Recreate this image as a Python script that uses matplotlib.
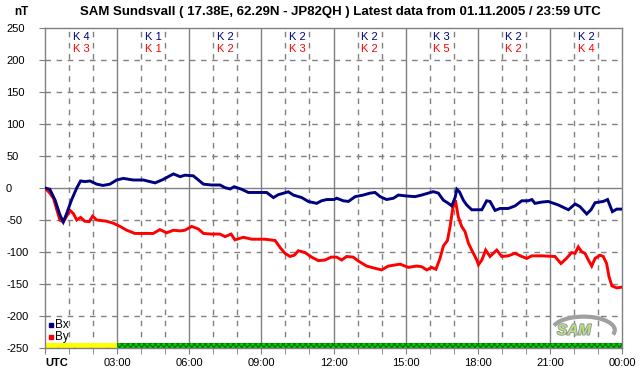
import matplotlib
matplotlib.use("Agg")
import matplotlib.pyplot as plt
from matplotlib.patches import Rectangle, Arc
import matplotlib.patheffects as pe
import numpy as np

plt.rcParams['font.family'] = ['Liberation Sans', 'DejaVu Sans']
plt.rcParams['hatch.linewidth'] = 0.8

# ---- data ----
bx_hours = [0.0, 0.2, 0.42, 0.62, 0.76, 0.9, 1.1, 1.32, 1.48, 1.66, 1.87, 2.15, 2.41, 2.7, 2.98,
            3.26, 3.67, 4.09, 4.58, 4.92, 5.34, 5.62, 5.82, 6.17, 6.38, 6.59, 6.93, 7.28, 7.49,
            7.7, 7.87, 8.18, 8.46, 8.87, 9.22, 9.5, 9.7, 10.12, 10.33, 10.68, 10.95, 11.3, 11.5,
            11.72, 12.03, 12.13, 12.41, 12.62, 12.9, 13.24, 13.52, 13.73, 13.94, 14.21, 14.49,
            14.7, 15.04, 15.39, 15.67, 15.94, 16.15, 16.36, 16.57, 16.78, 16.92, 17.06, 17.13,
            17.24, 17.4, 17.54, 17.75, 17.96, 18.17, 18.37, 18.51, 18.72, 18.93, 19.27, 19.55,
            19.83, 20.1, 20.25, 20.38, 20.66, 20.93, 21.35, 21.77, 22.05, 22.25, 22.53, 22.71,
            22.88, 23.22, 23.4, 23.6, 23.78, 23.99]
bx_values = [0, -2, -19, -42, -53, -40, -19, 0, 11, 10, 11, 6, 4, 6, 12.5,
             15, 12.5, 12.5, 8, 13.5, 22, 17.7, 20, 19, 12.5, 6, 4.7, 4.7, 0.5,
             -1.5, 2, -2, -7, -7, -7, -15, -10.5, -6, -11, -15, -21, -24, -20,
             -18, -18, -16, -20, -21, -13.5, -11, -8, -7, -13.5, -18, -16,
             -11, -12.5, -13.5, -11, -8, -5.7, -8, -19, -24, -28, -14.5, -2,
             -6, -19, -26.5, -34, -34, -34, -20, -21, -35, -32, -32, -28,
             -20, -20, -18, -24, -22, -21, -26.5, -34, -25, -29, -40.6, -34,
             -23, -21, -18, -37, -33, -33]

by_hours = [0.0, 0.2, 0.35, 0.49, 0.62, 0.76, 0.9, 1.04, 1.18, 1.32, 1.48, 1.66, 1.84, 1.98,
            2.15, 2.57, 2.84, 3.12, 3.4, 3.74, 4.5, 4.78, 5.06, 5.34, 5.62, 5.82, 6.1, 6.38,
            6.59, 6.93, 7.28, 7.49, 7.74, 7.9, 8.25, 8.6, 9.15, 9.57, 9.78, 9.98, 10.19, 10.37,
            10.54, 10.82, 11.09, 11.37, 11.65, 11.9, 12.13, 12.34, 12.55, 12.82, 13.03, 13.38,
            13.73, 14.0, 14.28, 14.77, 15.11, 15.46, 15.67, 15.88, 16.08, 16.26, 16.43, 16.57,
            16.74, 16.85, 16.96, 17.07, 17.19, 17.33, 17.47, 17.61, 17.75, 17.96, 18.03, 18.17,
            18.33, 18.51, 18.79, 19.0, 19.27, 19.55, 19.83, 20.04, 20.25, 20.66, 21.21, 21.46,
            21.69, 21.9, 22.05, 22.18, 22.32, 22.46, 22.6, 22.74, 22.88, 23.09, 23.22, 23.36,
            23.46, 23.58, 23.78, 23.99]
by_values = [0, -8, -16, -34, -50, -53, -44, -35, -40, -50, -46, -52, -52.5, -44,
             -50, -52, -55, -60, -66, -71, -71, -65, -70, -66, -67, -66, -60, -64,
             -71, -72, -72, -76, -72, -81, -77, -80, -80, -82, -93, -102, -107, -105,
             -98, -101, -108, -113.5, -112.5, -108, -108, -112.5, -107, -108, -114, -122,
             -125.5, -128, -122, -119, -124, -122, -123, -128, -124, -127, -110, -90.6,
             -82, -60, -32, -19, -45, -60, -68, -86, -97, -112.5, -120, -112.5,
             -97, -107, -97, -107, -106, -102, -107, -110, -106, -106, -107, -118,
             -110, -101, -102, -92, -99.5, -102, -112.5, -122, -110, -105, -107, -118,
             -138.6, -153, -156, -155]

k_blue = ["K 4", "K 1", "K 2", "K 2", "K 2", "K 3", "K 2", "K 2"]
k_red = ["K 3", "K 1", "K 2", "K 3", "K 2", "K 5", "K 2", "K 4"]
x_tick_labels = ["UTC", "03:00", "06:00", "09:00", "12:00", "15:00", "18:00", "21:00", "00:00"]
y_ticks = [250, 200, 150, 100, 50, 0, -50, -100, -150, -200, -250]

title = "SAM Sundsvall ( 17.38E, 62.29N - JP82QH ) Latest data from 01.11.2005 / 23:59 UTC"

W, H = 642, 376
fig = plt.figure(figsize=(W / 100, H / 100), dpi=100)
fig.patch.set_facecolor('white')
ax = fig.add_axes([45 / W, 28 / H, (622 - 45) / W, (348 - 28) / H])
ax.set_xlim(0, 24)
ax.set_ylim(-250, 250)

grid_c = '#808080'
for h in range(1, 24):
    if h % 3 == 0:
        ax.axvline(h, color=grid_c, lw=1.0, zorder=1)
    else:
        ax.axvline(h, color=grid_c, lw=1.0, ls=(0, (4, 4)), zorder=1)
for v in y_ticks[1:-1]:
    if v == 0:
        ax.axhline(v, color=grid_c, lw=1.0, zorder=1)
    else:
        ax.axhline(v, color=grid_c, lw=1.0, ls=(0, (4, 4)), zorder=1)

for s in ax.spines.values():
    s.set_color(grid_c)
    s.set_linewidth(1.0)

# bottom status bar
ax.add_patch(Rectangle((0, -249.5), 3, 8, facecolor='#ffff00', edgecolor='#ff0000',
                       hatch='.', lw=0, zorder=2))
ax.add_patch(Rectangle((3, -249.5), 21, 8, facecolor='#00d000', edgecolor='#007000',
                       hatch='xxxxxx', lw=0, zorder=2))

# data
ax.plot(by_hours, by_values, color='#ff0000', lw=2.1, zorder=4, solid_joinstyle='miter')
ax.plot(bx_hours, bx_values, color='#000080', lw=2.1, zorder=5, solid_joinstyle='miter')

# ticks
ax.set_xticks(range(0, 25, 3))
ax.set_xticklabels(x_tick_labels)
ax.set_xticks(range(0, 25), minor=True)
ax.tick_params(axis='x', which='both', length=4, color=grid_c, labelsize=8, pad=3)
ax.set_yticks(y_ticks)
ax.set_yticklabels([str(v) for v in y_ticks])
ax.tick_params(axis='y', length=4, color=grid_c, labelsize=8, pad=24)
for lab in ax.get_yticklabels():
    lab.set_horizontalalignment('left')
labs = ax.get_xticklabels()
labs[0].set_fontweight('bold')
labs[0].set_horizontalalignment('left')

# K indices
for i, (kb, kr) in enumerate(zip(k_blue, k_red)):
    ax.text(1.5 + 3 * i, 236, kb, color='#000080', fontsize=8, ha='center', va='center', zorder=6)
    ax.text(1.5 + 3 * i, 217, kr, color='#ff0000', fontsize=8, ha='center', va='center', zorder=6)

# legend
ax.plot([0.25], [-214], marker='s', ms=3, color='#000080', ls='none', clip_on=False)
ax.text(0.4, -214, "Bx", fontsize=8.5, va='center', ha='left')
ax.plot([0.25], [-233], marker='s', ms=3, color='#ff0000', ls='none', clip_on=False)
ax.text(0.4, -233, "By", fontsize=8.5, va='center', ha='left')

# logo
ax.add_patch(Arc((22.4, -222), 2.6, 42, theta1=-80, theta2=100, color='#a0a0a0', lw=3, zorder=5))
ax.text(22.0, -223, "SAM", fontsize=11, fontstyle='italic', color='#b8e08a',
        ha='center', va='center', zorder=6, fontweight='bold',
        path_effects=[pe.withStroke(linewidth=1.2, foreground='#909090')])

fig.text(340 / W, 1 - 12 / H, title, fontsize=9.5, fontweight='bold', ha='center', va='center')
fig.text(14 / W, 1 - 12 / H, "nT", fontsize=8.5, fontweight='bold', ha='left', va='center')

fig.savefig("out.png", dpi=100)
